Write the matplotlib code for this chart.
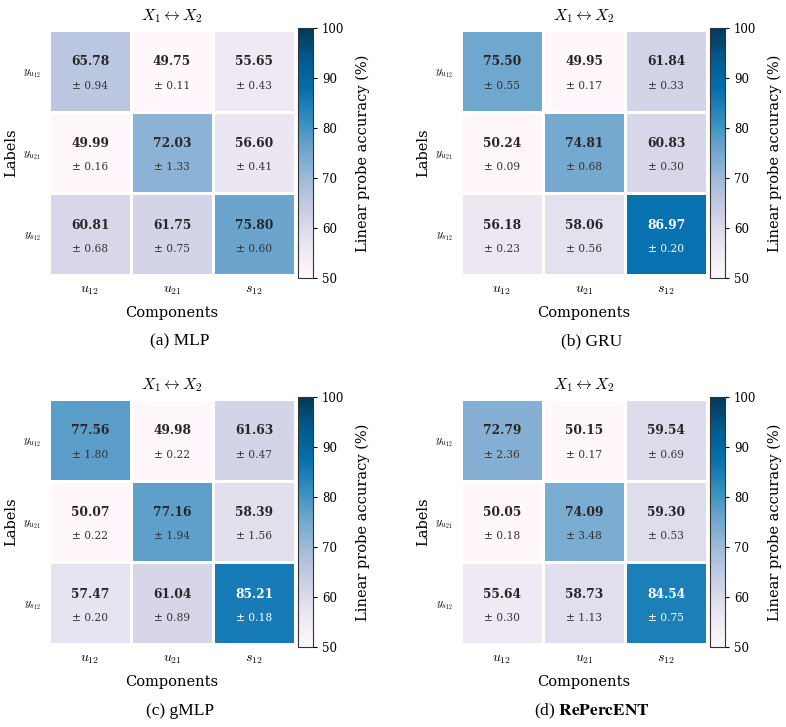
import numpy as np
import matplotlib
matplotlib.use("Agg")
import matplotlib.pyplot as plt

plt.rcParams['font.family'] = 'DejaVu Serif'
plt.rcParams['mathtext.fontset'] = 'cm'

components = [r'$u_{12}$', r'$u_{21}$', r'$s_{12}$']
labels = [r'$y_{u_{12}}$', r'$y_{u_{21}}$', r'$y_{s_{12}}$']

mlp_mean = [[65.78, 49.75, 55.65], [49.99, 72.03, 56.60], [60.81, 61.75, 75.80]]
mlp_std = [[0.94, 0.11, 0.43], [0.16, 1.33, 0.41], [0.68, 0.75, 0.60]]
gru_mean = [[75.50, 49.95, 61.84], [50.24, 74.81, 60.83], [56.18, 58.06, 86.97]]
gru_std = [[0.55, 0.17, 0.33], [0.09, 0.68, 0.30], [0.23, 0.56, 0.20]]
gmlp_mean = [[77.56, 49.98, 61.63], [50.07, 77.16, 58.39], [57.47, 61.04, 85.21]]
gmlp_std = [[1.80, 0.22, 0.47], [0.22, 1.94, 1.56], [0.20, 0.89, 0.18]]
rep_mean = [[72.79, 50.15, 59.54], [50.05, 74.09, 59.30], [55.64, 58.73, 84.54]]
rep_std = [[2.36, 0.17, 0.69], [0.18, 3.48, 0.53], [0.30, 1.13, 0.75]]

captions = ['(a) MLP', '(b) GRU', '(c) gMLP', r'(d) $\mathbf{RePercENT}$']
panels = [(mlp_mean, mlp_std), (gru_mean, gru_std), (gmlp_mean, gmlp_std), (rep_mean, rep_std)]

W, H = 786, 727
fig = plt.figure(figsize=(W / 100, H / 100), dpi=100)

# pixel boxes: heatmap left, top
lefts = [49, 461]
tops = [30, 399]
cmap = plt.get_cmap('PuBu')

for k, (mean, std) in enumerate(panels):
    col, row = k % 2, k // 2
    x0, y0 = lefts[col], tops[row]
    ax = fig.add_axes([x0 / W, 1 - (y0 + 245) / H, 246 / W, 245 / H])
    m = np.array(mean)
    s = np.array(std)
    mesh = ax.pcolormesh(m, cmap=cmap, vmin=50, vmax=100, edgecolors='white', linewidth=0.8)
    ax.set_xlim(0, 3)
    ax.set_ylim(3, 0)
    for sp in ax.spines.values():
        sp.set_visible(False)
    ax.set_xticks(np.arange(3) + 0.5)
    ax.set_xticklabels(components, fontsize=10)
    ax.set_yticks(np.arange(3) + 0.5)
    ax.set_yticklabels(labels, fontsize=8.5, rotation=0)
    ax.tick_params(length=0, pad=6)
    ax.set_xlabel('Components', fontsize=10.5, labelpad=6)
    ax.set_ylabel('Labels', fontsize=10.5, labelpad=3)
    ax.set_title(r'$X_1 \leftrightarrow X_2$', fontsize=11.5, pad=7)
    for i in range(3):
        for j in range(3):
            white = m[i, j] > 82
            c1 = 'white' if white else '#262626'
            c2 = 'white' if white else '#333333'
            ax.text(j + 0.5, i + 0.39, f'{m[i, j]:.2f}', ha='center', va='center',
                    fontsize=8.8, fontweight='bold', color=c1)
            ax.text(j + 0.5, i + 0.68, f'\u00b1 {s[i, j]:.2f}', ha='center', va='center',
                    fontsize=7.7, color=c2)

    cax = fig.add_axes([(x0 + 249) / W, 1 - (y0 + 248) / H, 15 / W, 250 / H])
    cb = fig.colorbar(mesh, cax=cax)
    cb.set_ticks([50, 60, 70, 80, 90, 100])
    cb.ax.tick_params(labelsize=8.5, length=3)
    cb.outline.set_edgecolor('#333333')
    cb.outline.set_linewidth(0.8)
    cb.set_label('Linear probe accuracy (%)', fontsize=10.5, labelpad=8)

    cap_x = (x0 + 123 + 8) / W
    cap_y = 1 - (341 if row == 0 else 711) / H
    fig.text(cap_x, cap_y, captions[k], ha='center', va='center', fontsize=12.5,
             family='Liberation Serif', math_fontfamily='stix')

fig.savefig('out.png', dpi=100)
